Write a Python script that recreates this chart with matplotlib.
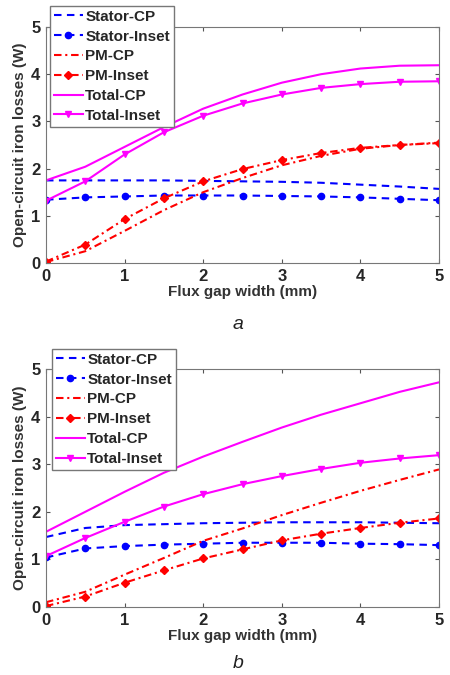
import matplotlib
matplotlib.use('Agg')
import matplotlib.pyplot as plt

plt.rcParams['font.family'] = ['Liberation Sans', 'DejaVu Sans']
plt.rcParams['font.weight'] = 'bold'

# flux gap width (mm)
gap = [0, 0.5, 1, 1.5, 2, 2.5, 3, 3.5, 4, 4.5, 5]

# panel a
a_stator_cp = [1.75, 1.75, 1.75, 1.75, 1.74, 1.73, 1.72, 1.70, 1.66, 1.62, 1.57]
a_stator_inset = [1.34, 1.39, 1.41, 1.43, 1.43, 1.43, 1.42, 1.41, 1.39, 1.36, 1.33]
a_pm_cp = [0.02, 0.25, 0.68, 1.12, 1.50, 1.80, 2.07, 2.27, 2.42, 2.50, 2.55]
a_pm_inset = [0.03, 0.39, 0.93, 1.37, 1.73, 1.99, 2.18, 2.33, 2.44, 2.50, 2.54]
a_total_cp = [1.75, 2.04, 2.46, 2.88, 3.27, 3.57, 3.82, 4.00, 4.12, 4.18, 4.19]
a_total_inset = [1.32, 1.73, 2.30, 2.77, 3.12, 3.38, 3.57, 3.71, 3.79, 3.84, 3.85]

# panel b
b_stator_cp = [1.47, 1.66, 1.72, 1.74, 1.76, 1.77, 1.78, 1.78, 1.78, 1.77, 1.76]
b_stator_inset = [1.04, 1.23, 1.28, 1.31, 1.33, 1.35, 1.35, 1.35, 1.33, 1.32, 1.30]
b_pm_cp = [0.10, 0.32, 0.68, 1.03, 1.39, 1.65, 1.93, 2.19, 2.44, 2.67, 2.89]
b_pm_inset = [0.02, 0.22, 0.51, 0.77, 1.02, 1.21, 1.40, 1.54, 1.66, 1.77, 1.86]
b_total_cp = [1.58, 2.00, 2.42, 2.82, 3.16, 3.47, 3.77, 4.04, 4.28, 4.52, 4.72]
b_total_inset = [1.07, 1.45, 1.79, 2.11, 2.37, 2.58, 2.75, 2.90, 3.03, 3.12, 3.19]

labels = ['Stator-CP', 'Stator-Inset', 'PM-CP', 'PM-Inset', 'Total-CP', 'Total-Inset']
dash = (0, (3.6, 2.6))
dashdot = (0, (3.6, 1.8, 1.0, 1.8))
styles = [
    dict(color='#0000ff', ls=dash),
    dict(color='#0000ff', ls=dash, marker='o'),
    dict(color='#ff0000', ls=dashdot),
    dict(color='#ff0000', ls=dashdot, marker='D'),
    dict(color='#ff00ff', ls='-'),
    dict(color='#ff00ff', ls='-', marker='v'),
]

W, H = 450, 675
fig = plt.figure(figsize=(4.5, 6.75), dpi=100)

panels = [
    ([a_stator_cp, a_stator_inset, a_pm_cp, a_pm_inset, a_total_cp, a_total_inset],
     [46, 27, 439, 263], (50, 6), 'a', 325),
    ([b_stator_cp, b_stator_inset, b_pm_cp, b_pm_inset, b_total_cp, b_total_inset],
     [46, 369, 439, 607], (52, 349), 'b', 664),
]

for series, box, leg_pos, tag, tag_y in panels:
    x0, y0, x1, y1 = box
    ax = fig.add_axes([x0 / W, 1 - y1 / H, (x1 - x0) / W, (y1 - y0) / H])
    for vals, lab, st in zip(series, labels, styles):
        ax.plot(gap, vals, label=lab, lw=1.5, ms=4.5, **st)
    ax.set_xlim(0, 5)
    ax.set_ylim(0, 5)
    ax.set_xticks(range(6))
    ax.set_yticks(range(6))
    ax.tick_params(direction='in', top=True, right=True, length=3,
                   labelsize=12, colors='#555555', labelcolor='#262626', pad=4)
    for sp in ax.spines.values():
        sp.set_color('#777777')
        sp.set_linewidth(0.8)
    for t in ax.get_xticklabels() + ax.get_yticklabels():
        t.set_fontweight('bold')
    ax.set_xlabel('Flux gap width (mm)', fontsize=11, fontweight='bold',
                  color='#333333', labelpad=1)
    ax.set_ylabel('Open-circuit iron losses (W)', fontsize=11, fontweight='bold',
                  color='#333333', labelpad=3)
    leg = ax.legend(loc='upper left', bbox_to_anchor=(leg_pos[0] / W, 1 - leg_pos[1] / H),
                    bbox_transform=fig.transFigure, borderaxespad=0, fontsize=11,
                    handlelength=1.9, handletextpad=0.15, labelspacing=0.38,
                    borderpad=0.25, fancybox=False, framealpha=1, edgecolor='#777777')
    for t in leg.get_texts():
        t.set_fontweight('bold')
        t.set_color('#262626')
    fig.text(238 / W, 1 - tag_y / H, tag, fontsize=14, style='italic',
             fontweight='normal', ha='center', va='center', color='#222222')

fig.savefig('out.png', dpi=100)
